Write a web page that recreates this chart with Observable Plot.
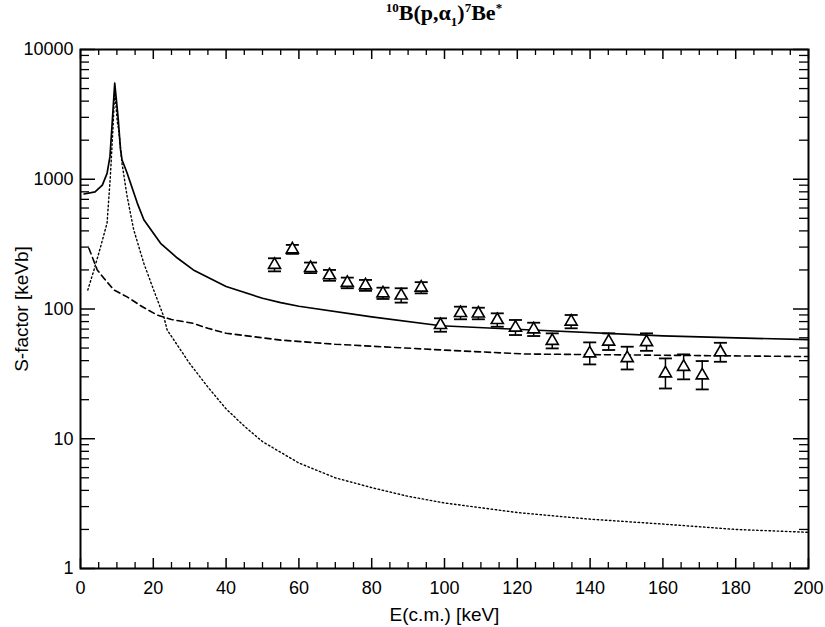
<!DOCTYPE html>
<html>
<head>
<meta charset="utf-8">
<script src="https://cdn.jsdelivr.net/npm/d3@7"></script>
<script src="https://cdn.jsdelivr.net/npm/@observablehq/plot@0.6"></script>
<style>
  body { margin: 0; background: #fff; }
  #wrap { position: relative; width: 825px; height: 627px; }
  #title { position: absolute; left: 0; width: 888px; top: 0px; text-align: center;
           font-family: "Liberation Serif", "DejaVu Serif", serif; font-weight: bold; font-size: 22px; color: #000; }
  #title sup, #title sub { font-size: 13px; }
  svg text { fill: #000; }
  g[aria-label="x-axis label"], g[aria-label="y-axis label"] { font-size: 19px; }
</style>
</head>
<body>
<div id="wrap">
  <div id="title"><sup>10</sup>B(p,&alpha;<sub>1</sub>)<sup>7</sup>Be<sup>*</sup></div>
</div>
<script>
// Total S-factor (solid)
const solidE = [1, 4, 6, 7.3, 8.1, 8.7, 9.4, 10.3, 11, 11.4, 12.8, 15.6, 17.4, 22, 26.6, 31, 40, 50, 55, 60, 80, 99, 121, 160, 200];
const solidS = [770, 800, 900, 1110, 1500, 2700, 5500, 3050, 1690, 1415, 1117, 655, 487, 321, 247, 200, 149, 121, 112, 105, 87, 74.3, 69.5, 62, 58];
// Dashed curve
const dashE = [2.3, 4.6, 6.4, 9.2, 12.8, 17, 21, 25, 31, 35, 40, 55, 70, 100, 122, 160, 200];
const dashS = [294, 200, 173, 140, 124, 104, 90, 83, 77.5, 71, 65, 57.6, 53.5, 48.2, 45, 44, 43];
// Dotted curve (resonance)
const dotE = [2, 3.7, 5.5, 7.3, 8.2, 8.9, 9.4, 10.1, 10.5, 11.4, 12.8, 14.6, 17.4, 20.1, 22.9, 23.8, 30, 35, 40, 45, 50, 60, 70, 80, 90, 100, 120, 140, 160, 180, 200];
const dotS = [140, 200, 300, 460, 1050, 2400, 4800, 2800, 2400, 1330, 740, 410, 225, 140, 87, 69, 38, 25, 17, 12.5, 9.5, 6.5, 5, 4.2, 3.6, 3.2, 2.7, 2.4, 2.2, 2.0, 1.9];
// Data points with error bars
const pointE  = [53.3, 58.2, 63.2, 68.4, 73.3, 78.3, 83.1, 88.1, 93.6, 98.9, 104.4, 109.3, 114.5, 119.5, 124.5, 129.6, 134.8, 139.9, 145.1, 150.2, 155.5, 160.7, 165.7, 170.8, 175.8];
const pointS  = [219, 288, 207, 182, 159, 152, 132, 127, 146, 75.2, 93.1, 92.3, 82.3, 71.9, 69.7, 56.8, 79.9, 45.5, 56.0, 41.8, 55.6, 31.9, 35.8, 30.8, 46.4];
const pointLo = [195, 266, 189, 165, 144.5, 138, 119.5, 112, 132, 66.8, 83.3, 83.3, 73.0, 63.0, 61.9, 49.7, 71.0, 37.4, 48.3, 34.2, 47.6, 24.4, 28.7, 24.0, 39.2];
const pointHi = [246, 312, 228, 200, 174.5, 167.5, 146, 144.5, 161, 84.8, 104.2, 102.3, 92.6, 82.3, 78.4, 64.9, 89.9, 55.3, 64.9, 51.2, 64.9, 41.6, 44.7, 39.7, 54.9];
// Ticks
const xMajor = [0, 20, 40, 60, 80, 100, 120, 140, 160, 180, 200];
const xMinor = d3.range(0, 201, 5).filter(v => v % 20 !== 0);
const yMajor = [1, 10, 100, 1000, 10000];
const yMinor = [1, 10, 100, 1000].flatMap(p => [2,3,4,5,6,7,8,9].map(k => k * p));
const yLabels = ["1", "10", "100", "1000", "10000"];

const solid = solidE.map((E, i) => ({E, S: solidS[i]}));
const dashed = dashE.map((E, i) => ({E, S: dashS[i]}));
const dotted = dotE.map((E, i) => ({E, S: dotS[i]}));
const points = pointE.map((E, i) => ({E, S: pointS[i], lo: pointLo[i], hi: pointHi[i]}));

const W = 825, H = 627, mT = 49, mB = 59, mL = 80, mR = 17;
const ph = H - mT - mB, pw = W - mL - mR;

const capSymbol = { draw(ctx, size) { const w = 6.5; ctx.moveTo(-w, 0); ctx.lineTo(w, 0); } };

const chart = Plot.plot({
  width: W, height: H,
  marginTop: mT, marginBottom: mB, marginLeft: mL, marginRight: mR,
  style: { fontFamily: "'Liberation Sans', Arial, sans-serif", fontSize: "18px", color: "#000", background: "#fff" },
  x: { domain: [0, 200] },
  y: { type: "log", domain: [1, 10000] },
  marks: [
    // inward ticks: bottom / top
    Plot.ruleX(xMajor, { x: d => d, insetTop: ph - 10, stroke: "#000", strokeWidth: 1.5 }),
    Plot.ruleX(xMinor, { x: d => d, insetTop: ph - 6, stroke: "#000", strokeWidth: 1.3 }),
    Plot.ruleX(xMajor, { x: d => d, insetBottom: ph - 10, stroke: "#000", strokeWidth: 1.5 }),
    Plot.ruleX(xMinor, { x: d => d, insetBottom: ph - 6, stroke: "#000", strokeWidth: 1.3 }),
    // inward ticks: left / right
    Plot.ruleY(yMajor, { y: d => d, insetRight: pw - 15, stroke: "#000", strokeWidth: 1.5 }),
    Plot.ruleY(yMinor, { y: d => d, insetRight: pw - 9, stroke: "#000", strokeWidth: 1.3 }),
    Plot.ruleY(yMajor, { y: d => d, insetLeft: pw - 15, stroke: "#000", strokeWidth: 1.5 }),
    Plot.ruleY(yMinor, { y: d => d, insetLeft: pw - 9, stroke: "#000", strokeWidth: 1.3 }),
    Plot.frame({ stroke: "#000", strokeWidth: 2 }),
    Plot.axisX({ ticks: xMajor, tickSize: 0, tickPadding: 13, tickFormat: d => String(d), fontSize: 18,
                 label: "E(c.m.) [keV]", labelAnchor: "center", labelArrow: "none", labelOffset: 52 }),
    Plot.axisY({ ticks: yMajor, tickSize: 0, tickPadding: 7, tickFormat: d => yLabels[yMajor.indexOf(d)], fontSize: 18,
                 label: "S-factor [keVb]", labelAnchor: "center", labelArrow: "none", labelOffset: 66 }),
    // curves
    Plot.line(dotted, { x: "E", y: "S", stroke: "#000", strokeWidth: 1.4, strokeDasharray: "1.5,2.6" }),
    Plot.line(dashed, { x: "E", y: "S", stroke: "#000", strokeWidth: 1.6, strokeDasharray: "6,4" }),
    Plot.line(solid, { x: "E", y: "S", stroke: "#000", strokeWidth: 1.7 }),
    // data points
    Plot.ruleX(points, { x: "E", y1: "lo", y2: "hi", stroke: "#000", strokeWidth: 1.5 }),
    Plot.dot(points, { x: "E", y: "hi", symbol: capSymbol, r: 3, stroke: "#000", strokeWidth: 1.8, fill: "none" }),
    Plot.dot(points, { x: "E", y: "lo", symbol: capSymbol, r: 3, stroke: "#000", strokeWidth: 1.8, fill: "none" }),
    Plot.dot(points, { x: "E", y: "S", symbol: "triangle", r: 4.5, stroke: "#000", strokeWidth: 1.6, fill: "#fff" })
  ]
});
document.getElementById("wrap").prepend(chart);
</script>
</body>
</html>
